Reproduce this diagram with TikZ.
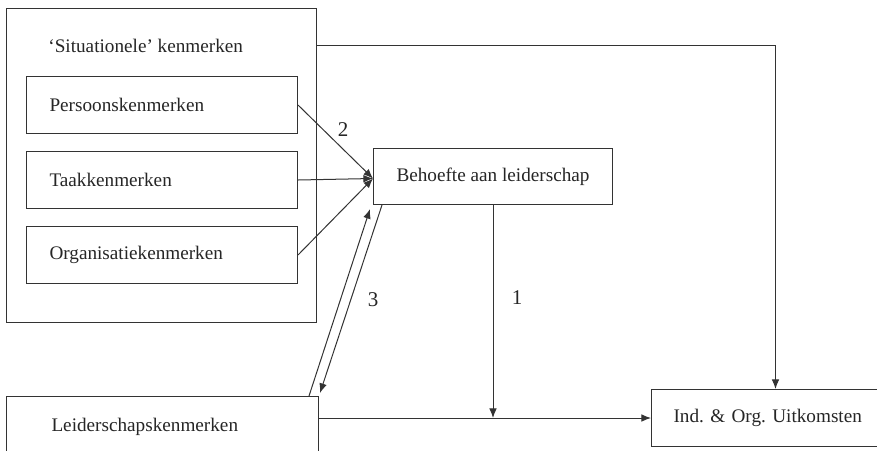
\documentclass[tikz,border=0pt]{standalone}
\usepackage{fontspec}
\setmainfont{Liberation Serif}
\usetikzlibrary{arrows.meta,calc}
\frenchspacing
\begin{document}
\begin{tikzpicture}[x=0.5pt,y=-0.5pt,
  font=\fontsize{9.6}{11}\selectfont,
  every node/.style={text=black!85},
  ln/.style={draw=black!80,line width=0.5pt},
  arr/.style={ln,-{Latex[length=4.8pt,width=3.8pt]}},
  ibox/.style={ln,anchor=north west,minimum width=135.5pt,minimum height=28.5pt,inner xsep=11.5pt,inner ysep=0pt,text width=112.5pt,align=left},
  lbl/.style={inner sep=0pt,font=\fontsize{10.5}{12}\selectfont}]
\clip (0,0) rectangle (877,450);
\fill[white] (0,0) rectangle (877,450);
% outer box
\node[ln,anchor=north west,minimum width=155pt,minimum height=157pt,inner sep=0pt] (sit) at (6,8) {};
\node[anchor=west,inner sep=0pt] (sittitle) at (48,46) {‘Situationele’ kenmerken};
\node[ibox] (pers) at (26,76) {Persoonskenmerken};
\node[ibox] (taak) at (26,151) {Taakkenmerken};
\node[ibox] (org) at (26,226) {Organisatiekenmerken};
% behoefte
\node[ln,anchor=north west,minimum width=119.5pt,minimum height=28pt,inner sep=0pt] (beh) at (373,148) {Behoefte aan leiderschap};
% leiderschap
\node[ln,anchor=north west,minimum width=156pt,minimum height=30pt,inner xsep=22.5pt,inner ysep=0pt,text width=111pt,align=left] (leid) at (6,396) {Leiderschapskenmerken};
% uitkomsten
\node[ln,anchor=north west,minimum width=125pt,minimum height=28.5pt,inner xsep=11pt,inner ysep=0pt,text width=103pt,align=left] (ind) at (651,389) {Ind. \& Org. Uitkomsten};
% connectors
\coordinate (c1) at (775.5,45.5);
\draw[arr] (sit.east |- c1) -- (c1) -- (c1 |- ind.north);
\coordinate (tip) at ($(beh.west)+(0,2)$);
\draw[arr] (pers.east) -- (tip);
\draw[arr] (taak.east) -- (tip);
\draw[arr] (org.east) -- (tip);
\draw[arr] ($(leid.north east)+(-10,0)$) -- ($(beh.south west)+(-3,4)$);
\draw[arr] ($(beh.south west)+(9,0)$) -- ($(leid.north east)+(1,-3)$);
\draw[arr] (ind.west -| leid.east) -- (ind.west);
\draw[arr] (beh.south) -- (beh.south |- ind.west);
% labels
\node[lbl] (l2) at (343,130) {2};
\node[lbl] (l3) at (373,300) {3};
\node[lbl] (l1) at (517,298) {1};
\end{tikzpicture}
\end{document}
